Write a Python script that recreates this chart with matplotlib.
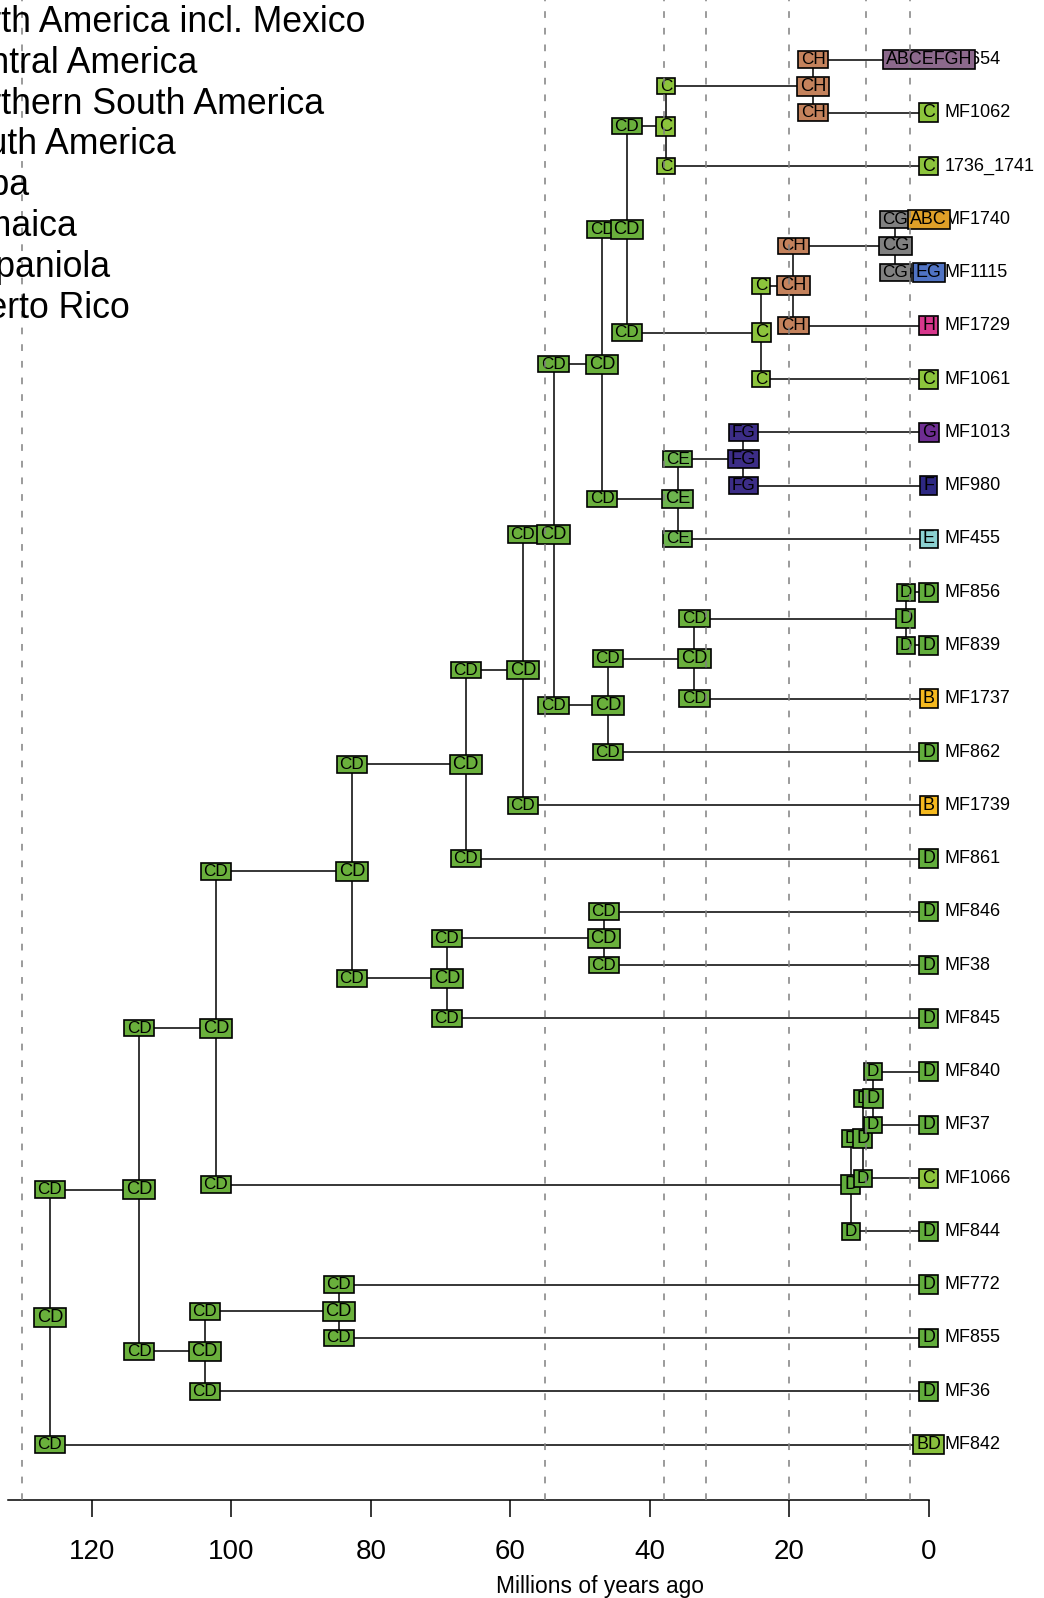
"""Ancestral range estimates on the dated tree: node, corner and tip states
drawn as coloured boxes, with the time-stratum boundaries as dashed lines."""
import numpy as np
import matplotlib as mpl
mpl.use("Agg")
import matplotlib.pyplot as plt
from matplotlib.path import Path

plt.rcParams["font.family"] = ["Liberation Sans", "DejaVu Sans"]

AREAS = ["North America incl. Mexico", "Central America", "Northern South America",
         "South America", "Cuba", "Jamaica", "Hispaniola", "Puerto Rico"]

TIPS = ["MF654", "MF1062", "1736_1741", "MF1740", "MF1115", "MF1729", "MF1061",
        "MF1013", "MF980", "MF455", "MF856", "MF839", "MF1737", "MF862", "MF1739",
        "MF861", "MF846", "MF38", "MF845", "MF840", "MF37", "MF1066", "MF844",
        "MF772", "MF855", "MF36", "MF842"]
TIP_STATES = ["ABCEFGH", "C", "C", "ABC", "EG", "H", "C", "G", "F", "E", "D", "D",
              "B", "D", "B", "D", "D", "D", "D", "D", "D", "C", "D", "D", "D", "D", "BD"]

# internal nodes (parents listed before their children)
NODES = ["n1", "n2", "n3", "n4", "n5", "n6", "n7", "n8", "n9", "n10", "n11", "n12",
         "n13", "n14", "n15", "n16", "n17", "n18", "n19", "n20", "n21", "nA", "nB",
         "nC", "n22", "n23"]
NODE_AGES = [126.0, 113.2, 102.2, 82.7, 66.4, 58.2, 53.8, 46.8, 43.3, 37.7, 16.6, 24.0,
             19.4, 4.8, 36.0, 26.6, 46.0, 33.6, 3.3, 69.1, 46.6, 11.2, 9.45, 8.0,
             103.8, 84.6]
NODE_STATES = ["CD", "CD", "CD", "CD", "CD", "CD", "CD", "CD", "CD", "C", "CH", "C",
               "CH", "CG", "CE", "FG", "CD", "CD", "D", "CD", "CD", "D", "D", "D",
               "CD", "CD"]
NODE_CHILDREN = [("n2", "MF842"), ("n3", "n22"), ("n4", "nA"), ("n5", "n20"),
                 ("n6", "MF861"), ("n7", "MF1739"), ("n8", "n17"), ("n9", "n15"),
                 ("n10", "n12"), ("n11", "1736_1741"), ("MF654", "MF1062"),
                 ("n13", "MF1061"), ("n14", "MF1729"), ("MF1740", "MF1115"),
                 ("n16", "MF455"), ("MF1013", "MF980"), ("n18", "MF862"),
                 ("n19", "MF1737"), ("MF856", "MF839"), ("n21", "MF845"),
                 ("MF846", "MF38"), ("nB", "MF844"), ("nC", "MF1066"),
                 ("MF840", "MF37"), ("n23", "MF36"), ("MF772", "MF855")]
# states just after each split (upper branch, lower branch)
CORNER_STATES = [("CD", "CD"), ("CD", "CD"), ("CD", "CD"), ("CD", "CD"), ("CD", "CD"),
                 ("CD", "CD"), ("CD", "CD"), ("CD", "CD"), ("CD", "CD"), ("C", "C"),
                 ("CH", "CH"), ("C", "C"), ("CH", "CH"), ("CG", "CG"), ("CE", "CE"),
                 ("FG", "FG"), ("CD", "CD"), ("CD", "CD"), ("D", "D"), ("CD", "CD"),
                 ("CD", "CD"), ("D", "D"), ("D", "D"), ("D", "D"), ("CD", "CD"),
                 ("CD", "CD")]

STRATA = [130, 55, 38, 32, 20, 9, 2.7]
TICKS = [0, 20, 40, 60, 80, 100, 120]

COLORS = {"CD": "#6AB03C", "D": "#62AD3C", "C": "#8CC43C", "BD": "#88C03C",
          "CE": "#6DB44E", "CH": "#C4825C", "CG": "#808080", "ABC": "#DFA028",
          "EG": "#5073C3", "H": "#D7378C", "FG": "#3C2D87", "G": "#6E2D91",
          "F": "#2D2882", "E": "#8CD2D2", "B": "#F5B91E", "ABCEFGH": "#8C698C"}

W, H = 1044, 1598
fig = plt.figure(figsize=(W / 100, H / 100), dpi=100)
ax_bottom = 1500  # pixel row of the time axis
ax = fig.add_axes([0, 1 - ax_bottom / H, 1, ax_bottom / H])

# tree layout: tips on integer rows, nodes midway between their children
age = {t: 0.0 for t in TIPS}
age.update(zip(NODES, NODE_AGES))
ypos = {t: float(i) for i, t in enumerate(TIPS)}


def place(n):
    if n not in ypos:
        a, b = NODE_CHILDREN[NODES.index(n)]
        ypos[n] = (place(a) + place(b)) / 2
    return ypos[n]


place(NODES[0])


def label_box(x0, y0, width, height, mutation_size):
    # wider side padding than top/bottom, like R's boxed labels
    hp, vp = 0.16 * mutation_size, 0.05 * mutation_size
    return Path([(x0 - hp, y0 - vp), (x0 + width + hp, y0 - vp),
                 (x0 + width + hp, y0 + height + vp), (x0 - hp, y0 + height + vp),
                 (x0 - hp, y0 - vp)], closed=True)


def box(x, y, s, size):
    ax.text(x, y, s, ha="center", va="center", fontsize=size, zorder=3,
            bbox=dict(boxstyle=label_box, fc=COLORS[s], ec="black", lw=1.2))


for n, (a, b), cs, st in zip(NODES, NODE_CHILDREN, CORNER_STATES, NODE_STATES):
    x = age[n]
    ax.plot([x, x], [ypos[a], ypos[b]], color="k", lw=1.1, zorder=1)
    for c, s in zip((a, b), cs):
        ax.plot([x, age[c]], [ypos[c], ypos[c]], color="k", lw=1.1, zorder=1)
        box(x, ypos[c], s, 12.3)
    box(x, ypos[n], st, 13.2)

px_per_ma = 6.975
for t, s in zip(TIPS, TIP_STATES):
    ax.text(-16.2 / px_per_ma, ypos[t], t, ha="left", va="center", fontsize=13, zorder=2)
    box(0, ypos[t], s, 12.9)

for s in STRATA:
    ax.axvline(s, color="#808080", lw=1.1, ls=(0, (4.4, 6.5)), zorder=5)

x0 = 928.8  # pixel column of 0 Ma
ax.set_xlim(x0 / px_per_ma, (x0 - W) / px_per_ma)
row, top = 53.27, 59.5
ax.set_ylim((ax_bottom - top) / row, -top / row)

for sp in ("top", "left", "right"):
    ax.spines[sp].set_visible(False)
ax.spines["bottom"].set_bounds(0, 132)
ax.spines["bottom"].set_linewidth(1.1)
ax.set_yticks([])
ax.set_xticks(TICKS)
ax.tick_params(axis="x", length=12, width=1.1, pad=16, labelsize=20)
ax.set_xlabel("Millions of years ago", fontsize=16.4)
ax.xaxis.label.set_va("center")
ax.xaxis.set_label_coords(600 / W, -87 / ax_bottom)
ax.patch.set_alpha(0)

for i, name in enumerate(AREAS):
    fig.text(-56 / W, 1 - (32 + 40.8 * i) / H, name, fontsize=25.7, va="baseline")

fig.savefig("out.png", dpi=100)
